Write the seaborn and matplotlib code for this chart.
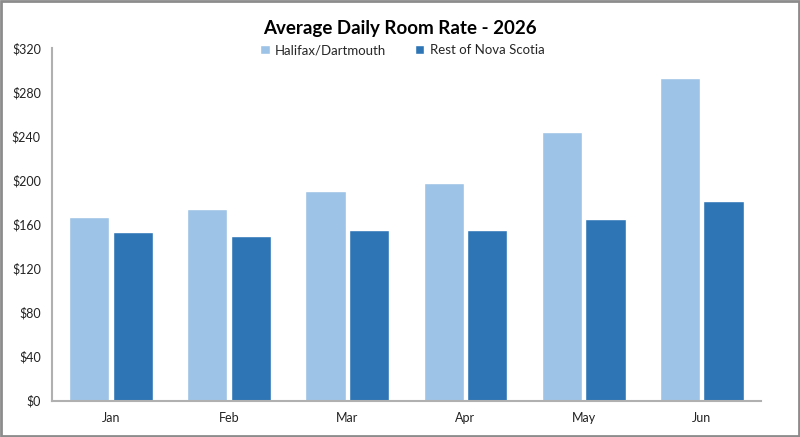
import numpy as np
import pandas as pd
import matplotlib as mpl
mpl.use("Agg")
import matplotlib.pyplot as plt
import matplotlib.ticker as mticker
from matplotlib.patches import Rectangle
import seaborn as sns

months = ["Jan", "Feb", "Mar", "Apr", "May", "Jun"]
halifax = [166.5, 174.3, 190.4, 197.7, 244.0, 293.0]
rest_ns = [153.2, 149.6, 155.0, 155.0, 165.0, 181.3]
series = ["Halifax/Dartmouth", "Rest of Nova Scotia"]
colors = ["#9DC3E6", "#2E75B6"]
yticks = [0, 40, 80, 120, 160, 200, 240, 280, 320]

df = pd.DataFrame({
    "month": months * 2,
    "rate": halifax + rest_ns,
    "region": [series[0]] * len(months) + [series[1]] * len(months),
})

sns.set_theme(style="white")
plt.rcParams['font.family'] = ['Lato', 'DejaVu Sans']

fig = plt.figure(figsize=(8, 4.37), dpi=100)
ax = fig.add_axes([0.065, 0.083, 0.886, 0.807])

sns.barplot(data=df, x="month", y="rate", hue="region", order=months,
            hue_order=series, palette=colors, width=0.74, gap=0.08,
            saturation=1, ax=ax, legend=True)

ax.set_ylim(0, 320)
ax.set_xlim(-0.5, len(months) - 0.5)
ax.set_yticks(yticks)
ax.yaxis.set_major_formatter(mticker.FuncFormatter(lambda v, p: f"${v:.0f}"))
ax.set_xlabel("")
ax.set_ylabel("")
ax.tick_params(axis="both", length=0, labelsize=9, colors="#222222")
ax.tick_params(axis="x", pad=8)
ax.tick_params(axis="y", pad=8)

for side in ["top", "right"]:
    ax.spines[side].set_visible(False)
for side in ["left", "bottom"]:
    ax.spines[side].set_color("#B0B0B0")
    ax.spines[side].set_linewidth(1.5)

handles, labels = ax.get_legend_handles_labels()
ax.get_legend().remove()
fig.legend(handles, labels, loc="center", bbox_to_anchor=(0.503, 0.885), ncol=2,
           frameon=False, fontsize=9.5, handlelength=0.7, handleheight=0.7,
           handletextpad=0.4, columnspacing=2.2)

fig.suptitle("Average Daily Room Rate - 2026", y=0.955, fontsize=13.5,
             fontweight="bold", color="black")

fig.add_artist(Rectangle((0.0015, 0.002), 0.997, 0.995, transform=fig.transFigure,
                         fill=False, edgecolor="#8C8C8C", linewidth=2))

plt.savefig("out.png", dpi=100)
